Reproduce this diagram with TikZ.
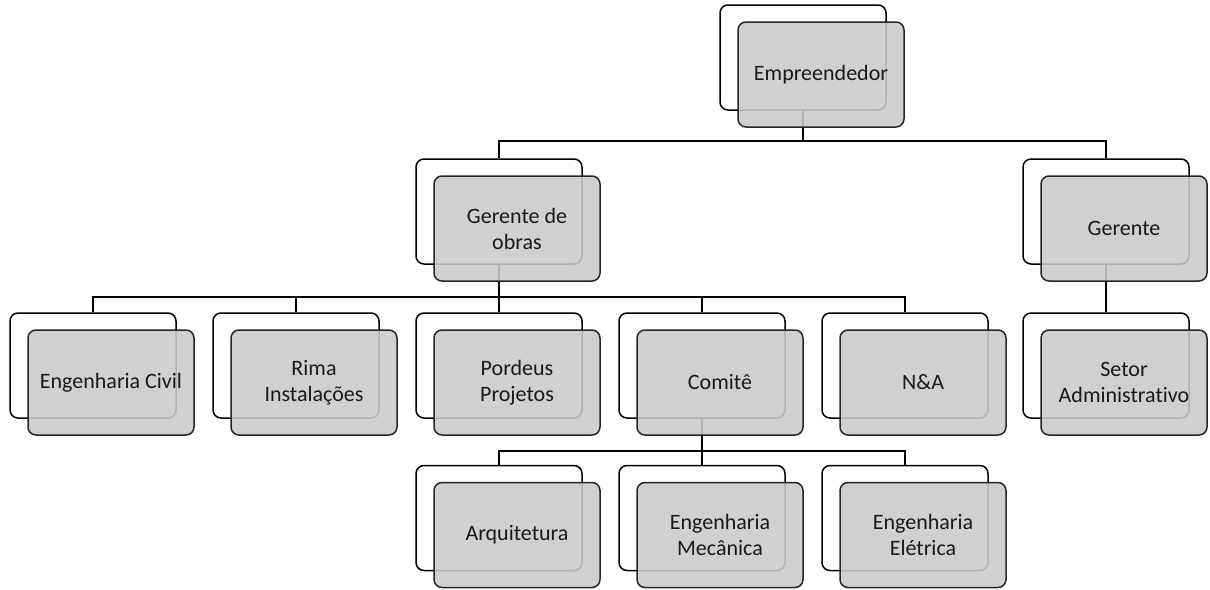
\documentclass[tikz,border=0pt]{standalone}
\usepackage{fontspec}
\setmainfont[Ligatures=NoCommon]{Carlito}
\definecolor{boxgray}{RGB}{202,202,202}
\begin{document}
\begin{tikzpicture}[x=1pt,y=-1pt,
  backbox/.style={draw=black, line width=1.5pt, rounded corners=8pt, minimum width=166pt, minimum height=105pt, inner sep=0pt, fill=white},
  frontbox/.style={draw=black!85, line width=1.5pt, rounded corners=8pt, minimum width=166pt, minimum height=105pt, inner sep=0pt, fill=boxgray, fill opacity=0.88, text opacity=1, align=center, font=\fontsize{22}{26}\selectfont, text=black!90},
  link/.style={draw=black, line width=1.4pt}]
\useasboundingbox (0,0) rectangle (1210,589);
% back boxes
\node[backbox] (emp-b) at (803,57.5) {};
\node[backbox] (go-b) at (499,211.5) {};
\node[backbox] (ger-b) at (1106,211.5) {};
\node[backbox] (ec-b) at (93,365.5) {};
\node[backbox] (rim-b) at (296,365.5) {};
\node[backbox] (por-b) at (499,365.5) {};
\node[backbox] (com-b) at (702,365.5) {};
\node[backbox] (na-b) at (905,365.5) {};
\node[backbox] (set-b) at (1106,365.5) {};
\node[backbox] (arq-b) at (499,518) {};
\node[backbox] (mec-b) at (702,518) {};
\node[backbox] (ele-b) at (905,518) {};
% connectors
\coordinate (bus1) at (803,141);
\coordinate (bus2) at (499,297);
\coordinate (bus3) at (702,451);
\draw[link] (emp-b.south) -- (bus1) -| (go-b.north);
\draw[link] (bus1) -| (ger-b.north);
\draw[link] (go-b.south) -- (bus2);
\draw[link] (bus2) -| (ec-b.north);
\draw[link] (bus2) -| (rim-b.north);
\draw[link] (bus2) -- (por-b.north);
\draw[link] (bus2) -| (com-b.north);
\draw[link] (bus2) -| (na-b.north);
\draw[link] (ger-b.south) -- (set-b.north);
\draw[link] (com-b.south) -- (bus3);
\draw[link] (bus3) -| (arq-b.north);
\draw[link] (bus3) -- (mec-b.north);
\draw[link] (bus3) -| (ele-b.north);
% front boxes
\node[frontbox] (emp) at (821,74.5) {Empreendedor};
\node[frontbox] (go) at (517,228.5) {Gerente de\\obras};
\node[frontbox] (ger) at (1124,228.5) {Gerente};
\node[frontbox] (ec) at (111,382.5) {Engenharia Civil};
\node[frontbox] (rim) at (314,382.5) {Rima\\Instalações};
\node[frontbox] (por) at (517,382.5) {Pordeus\\Projetos};
\node[frontbox] (com) at (720,382.5) {Comitê};
\node[frontbox] (na) at (923,382.5) {N\&A};
\node[frontbox] (set) at (1124,382.5) {Setor\\Administrativo};
\node[frontbox] (arq) at (517,535) {Arquitetura};
\node[frontbox] (mec) at (720,535) {Engenharia\\Mecânica};
\node[frontbox] (ele) at (923,535) {Engenharia\\Elétrica};
\end{tikzpicture}
\end{document}
